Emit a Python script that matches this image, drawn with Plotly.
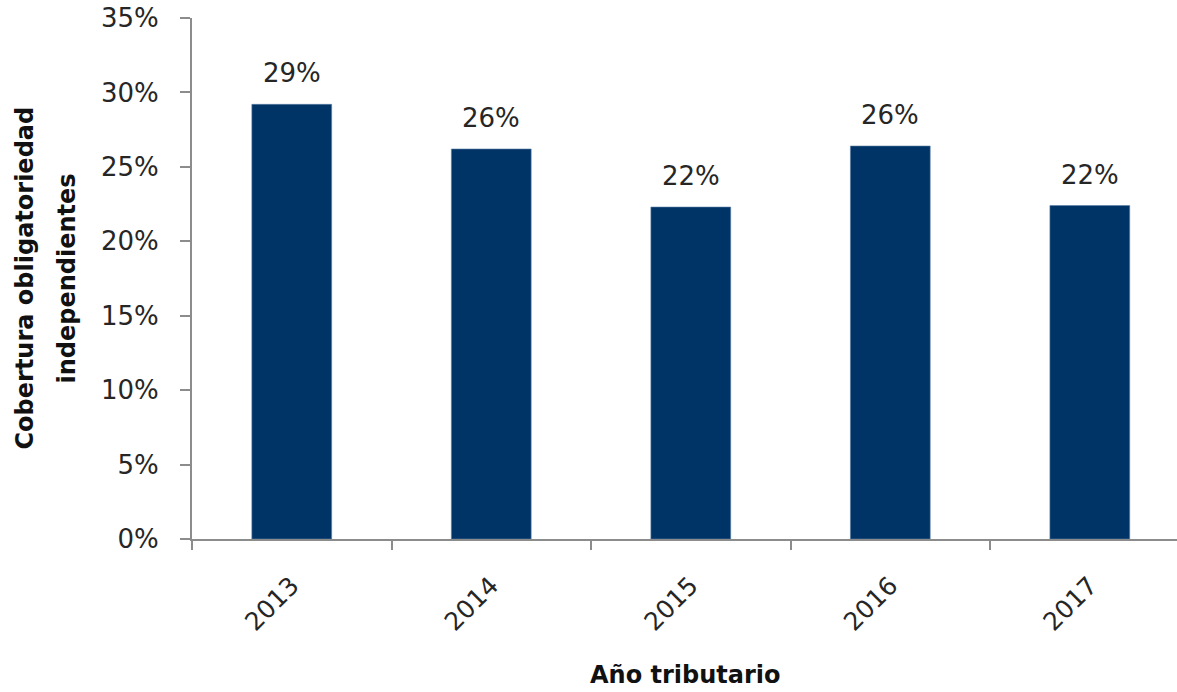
import plotly.graph_objects as go

# Coverage of mandatory contributions for independent workers, by tax year
years = ["2013", "2014", "2015", "2016", "2017"]
coverage = [0.292, 0.262, 0.223, 0.264, 0.224]

bar_color = "#003366"
text_color = "#262626"
axis_color = "#8c8c8c"
font_family = "DejaVu Sans, Verdana, sans-serif"

fig = go.Figure(
    go.Bar(
        x=years,
        y=coverage,
        marker=dict(color=bar_color, line=dict(color="#5b7fa6", width=0.6)),
        hoverinfo="x+y",
    )
)

# Value labels above the bars
for i, v in enumerate(coverage):
    fig.add_annotation(
        x=i, y=v, text=f"{v * 100:.0f}%", showarrow=False,
        yanchor="bottom", yshift=14,
        font=dict(family=font_family, size=26, color=text_color),
    )

# Two-line rotated y-axis title
for xpix, line in [(-168, "Cobertura obligatoriedad"), (-126, "independientes")]:
    fig.add_annotation(
        xref="paper", yref="paper", x=0, y=0.5, xshift=xpix,
        text=f"<b>{line}</b>", textangle=-90, showarrow=False,
        xanchor="center", yanchor="middle",
        font=dict(family=font_family, size=24, color="#111111"),
    )

# x-axis title
fig.add_annotation(
    xref="paper", yref="paper", x=0.5015, y=0, yshift=-136,
    text="<b>Año tributario</b>", showarrow=False,
    xanchor="center", yanchor="middle",
    font=dict(family=font_family, size=24, color="#111111"),
)

fig.update_layout(
    width=1177, height=692,
    margin=dict(l=192, r=0, t=18, b=153),
    paper_bgcolor="white", plot_bgcolor="white",
    bargap=0.6,
    showlegend=False,
    font=dict(family=font_family, size=22, color=text_color),
)

fig.update_xaxes(
    type="category",
    range=[-0.5, 4.437],
    showline=True, linecolor=axis_color, linewidth=2,
    ticks="outside", tickson="boundaries", ticklen=9, tickwidth=2, tickcolor=axis_color,
    tickangle=-45, ticklabelstandoff=20,
    tickfont=dict(family=font_family, size=25, color=text_color),
    showgrid=False, zeroline=False,
)

fig.update_yaxes(
    range=[0, 0.35], dtick=0.05, tickformat=".0%",
    showline=True, linecolor=axis_color, linewidth=2,
    ticks="outside", ticklen=10, tickwidth=2, tickcolor=axis_color,
    ticklabelstandoff=16,
    tickfont=dict(family=font_family, size=26, color=text_color),
    showgrid=False, zeroline=False,
)

fig.write_html("out.html")
